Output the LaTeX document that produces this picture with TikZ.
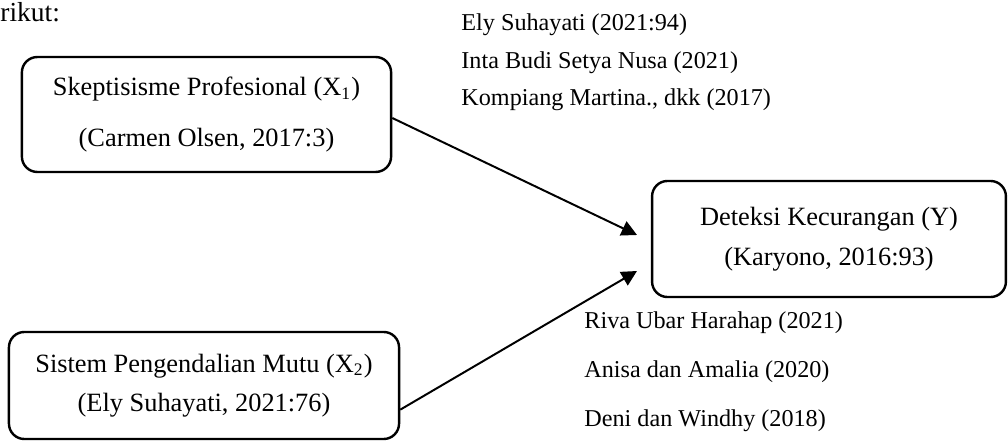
\documentclass[tikz,border=0pt]{standalone}
\usepackage{fontspec}
\setmainfont{Liberation Serif}
\usetikzlibrary{positioning,arrows.meta}
\tikzset{
  fig/.style={x=0.455pt,y=-0.455pt},
  box/.style={draw,line width=1.1pt,rounded corners=7pt,align=center,inner sep=0pt},
  ln/.style={-{Triangle[length=7pt,width=7pt]},line width=0.9pt},
  src/.style={font=\fontsize{11}{13}\selectfont,anchor=base west,inner sep=0pt},
}

\begin{document}
\begin{tikzpicture}[fig]
\useasboundingbox (0,0) rectangle (1008,443);

\node[anchor=base west,inner sep=0pt,font=\fontsize{12.5}{14}\selectfont] (lead) at (0,22) {rikut:};

% variables
\node[box,minimum width=168pt,minimum height=52.3pt,font=\fontsize{12}{23.2}\selectfont]
  (xa) at (206.5,114.5) {Skeptisisme Profesional (X\textsubscript{1})\\(Carmen Olsen, 2017:3)};
\node[box,minimum width=177.5pt,minimum height=48.7pt,font=\fontsize{12}{18}\selectfont]
  (xb) at (204,385.5) {Sistem Pengendalian Mutu (X\textsubscript{2})\\(Ely Suhayati, 2021:76)};
\node[box,minimum width=161pt,minimum height=52.8pt,font=\fontsize{12}{18.2}\selectfont]
  (yy) at (829,239) {Deteksi Kecurangan (Y)\\(Karyono, 2016:93)};

\coordinate (tipa) at (637,235);
\coordinate (tipb) at (637,271);
\draw[ln] ([yshift=-1.6pt]xa.east) -- (tipa);
\draw[ln] ([yshift=-11pt]xb.east) -- (tipb);

% sources
\node[src] (sa1) at (461,31) {Ely Suhayati (2021:94)};
\node[src] (sa2) at (461,69) {Inta Budi Setya Nusa (2021)};
\node[src] (sa3) at (461,106) {Kompiang Martina., dkk (2017)};
\node[src] (sb1) at (584,329) {Riva Ubar Harahap (2021)};
\node[src] (sb2) at (584,378) {Anisa dan Amalia (2020)};
\node[src] (sb3) at (584,427) {Deni dan Windhy (2018)};

\end{tikzpicture}
\end{document}
